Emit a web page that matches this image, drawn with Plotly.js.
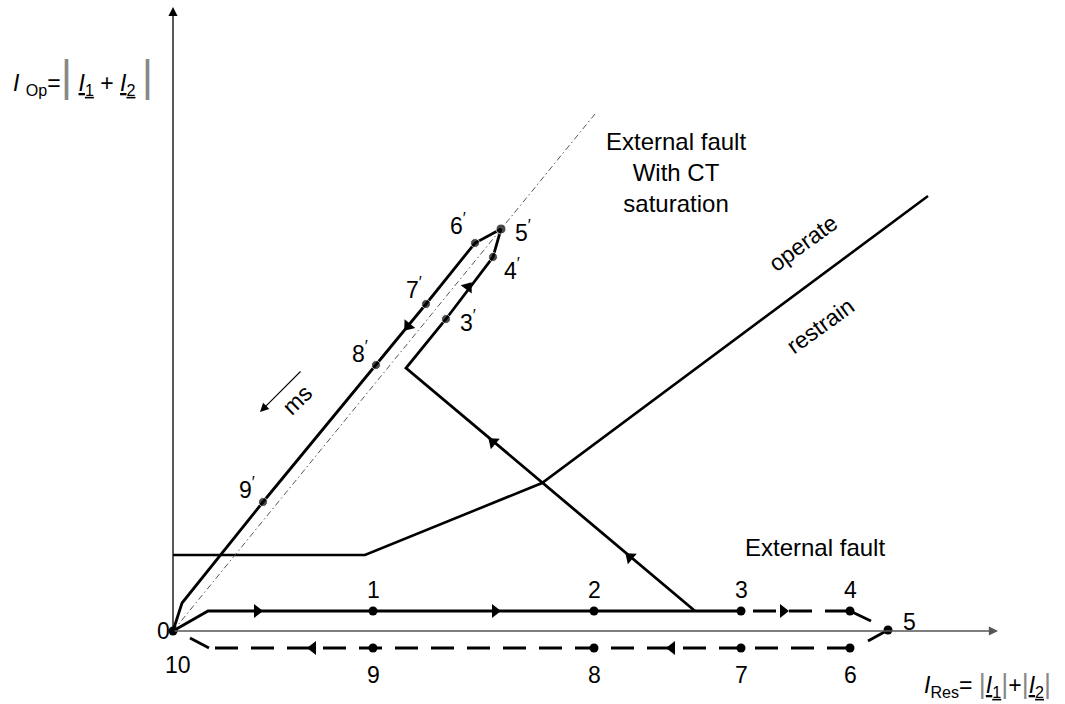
<!DOCTYPE html>
<html><head><meta charset="utf-8">
<script src="https://cdn.plot.ly/plotly-3.0.1.min.js"></script>
<style>html,body{margin:0;padding:0;background:#fff}</style>
</head><body><div id="chart" style="width:1065px;height:704px"></div>
<script>
// ---- data (diagram units: I_Res horizontally, I_Op vertically) ----
const charX = [0, 192, 369, 755];            // operate / restrain characteristic
const charY = [76, 76, 148, 435];
const ctRefX = [0, 422];                     // dash-dot reference line
const ctRefY = [0, 517];
// external fault with CT saturation trajectory
const satX = [0, 9, 90, 203, 253, 302, 328, 320, 273, 233, 522];
const satY = [0, 28, 129, 266, 327, 388, 402, 374, 312, 263, 20];
// external fault trajectory (no saturation)
const upSolidX = [0, 35, 544];   const upSolidY = [0, 20, 20];
const upDashX = [544, 677];      const upDashY = [20, 20];
const link45X = [677, 698];      const link45Y = [20, 10];
const link56X = [695, 715];      const link56Y = [-10, 1];
const lowDashX = [677, 36];      const lowDashY = [-17, -17];
const link910X = [36, 17];       const link910Y = [-17, -7];
// numbered points
const ptLabels = ["1","2","3","4","5","6","7","8","9","10"];
const ptX = [200, 421, 568, 677, 715, 677, 568, 421, 200, 0];
const ptY = [20, 20, 20, 20, 1, -17, -17, -17, -17, 0];
const ptDX = [0, 0, 0, 0, 21, 0, 0, 0, 0, 5];      // label offsets
const ptDY = [21, 21, 21, 21, 8, -27, -27, -27, -27, -34];
const prLabels = ["3","4","5","6","7","8","9"];
const prX = [273, 320, 328, 302, 253, 203, 90];
const prY = [312, 374, 402, 388, 327, 266, 129];
const prDX = [22, 19, 22, -17, -12, -16, -16];
const prDY = [-2, -12, -2, 19, 16, 13, 14];
// direction arrows on the trajectories (position and direction)
const arX = [84, 322, 610, 499, 140, 295, 235, 320, 457];
const arY = [20, 20, 20, -17, -17, 344, 305, 189, 74];
const arDX = [1, 1, 1, -1, -1, 47, -50, -289, -289];
const arDY = [0, 0, 0, 0, 0, 62, -61, 243, 243];

const K = 'black';
const line = (x, y, w, dash, color) => ({x, y, type:'scatter', mode:'lines', hoverinfo:'skip',
  line:{color: color || K, width:w, dash: dash || 'solid'}, showlegend:false});

const traces = [
  line(charX, charY, 2.6),
  line(ctRefX, ctRefY, 0.9, '6px,3px,1.5px,3px', '#444'),
  line(satX, satY, 2.8),
  line(upSolidX, upSolidY, 2.8),
  line(upDashX, upDashY, 2.8, '23px,13px'),
  line(link45X, link45Y, 2.8),
  line(link56X, link56Y, 2.8),
  line(lowDashX, lowDashY, 2.8, '23px,13px'),
  line(link910X, link910Y, 2.8),
  {x: ptX, y: ptY, type:'scatter', mode:'markers', hoverinfo:'skip', showlegend:false,
   marker:{color:K, size:9}},
  {x: prX, y: prY, type:'scatter', mode:'markers', hoverinfo:'skip', showlegend:false,
   marker:{color:K, size:[9,9,10,9,9,9,9]}},
  {x: arX, y: arY, type:'scatter', mode:'markers', hoverinfo:'skip', showlegend:false,
   marker:{color:K, size:12, symbol:'triangle-right',
     angle: arX.map((_, i) => -Math.atan2(arDY[i], arDX[i]) * 180 / Math.PI)}}
];

const F = 'Liberation Sans, Arial, sans-serif';
const ann = [];
const txt = (x, y, text, size, extra) => Object.assign({x, y, text, showarrow:false,
  xref:'x', yref:'y', font:{family:F, size:size, color:K}}, extra || {});

ptLabels.forEach((t, i) => ann.push(txt(ptX[i], ptY[i], t, 23, {xshift: ptDX[i], yshift: ptDY[i]})));
prLabels.forEach((t, i) => ann.push(txt(prX[i], prY[i], t + '<sup>′</sup>', 23, {xshift: prDX[i], yshift: prDY[i]})));
ann.push(txt(-10, 0, '0', 23));
ann.push(txt(503, 459, 'External fault<br>With CT<br>saturation', 24));
ann.push(txt(642, 84, 'External fault', 24));
ann.push(txt(630, 388, 'operate', 23, {textangle:-36}));
ann.push(txt(647, 305, 'restrain', 23, {textangle:-36}));
ann.push(txt(124, 231, 'ms', 23, {textangle:-44}));
// "ms" arrow
ann.push({x: 87, y: 219, ax: 129, ay: 261, axref:'x', ayref:'y', xref:'x', yref:'y',
  showarrow:true, arrowhead:2, arrowsize:1.6, arrowwidth:1.1, arrowcolor:K, text:''});
// axes
ann.push({x: 0, y: 624, ax: 0, ay: 0, axref:'x', ayref:'y', xref:'x', yref:'y',
  showarrow:true, arrowhead:2, arrowsize:1.4, arrowwidth:1.3, arrowcolor:K, text:''});
ann.push({x: 825, y: 0, ax: 0, ay: 0, axref:'x', ayref:'y', xref:'x', yref:'y',
  showarrow:true, arrowhead:2, arrowsize:1.4, arrowwidth:1.3, arrowcolor:'#555', text:''});
// axis titles
const bar = (s) => '<span style="font-size:' + s + 'px;color:#888">|</span>';
ann.push(txt(-162, 556,
  '<i>I</i> <sub>Op</sub>=' + bar(44) + ' <u><i>I</i><sub>1</sub></u> + <u><i>I</i><sub>2</sub></u> ' + bar(44),
  23, {xanchor:'left'}));
ann.push(txt(749, -54,
  '<i>I</i><sub>Res</sub>= ' + bar(27) + '<u><i>I</i><sub>1</sub></u>' + bar(27) + '+' + bar(27) + '<u><i>I</i><sub>2</sub></u>' + bar(27),
  23, {xanchor:'left'}));

const layout = {
  width:1065, height:704, margin:{l:0, r:0, t:0, b:0},
  paper_bgcolor:'#fff', plot_bgcolor:'#fff', showlegend:false,
  xaxis:{range:[-173, 892], visible:false, fixedrange:true},
  yaxis:{range:[-73, 631], visible:false, fixedrange:true},
  annotations: ann
};
Plotly.newPlot('chart', traces, layout, {staticPlot:true, displayModeBar:false});
</script></body></html>
